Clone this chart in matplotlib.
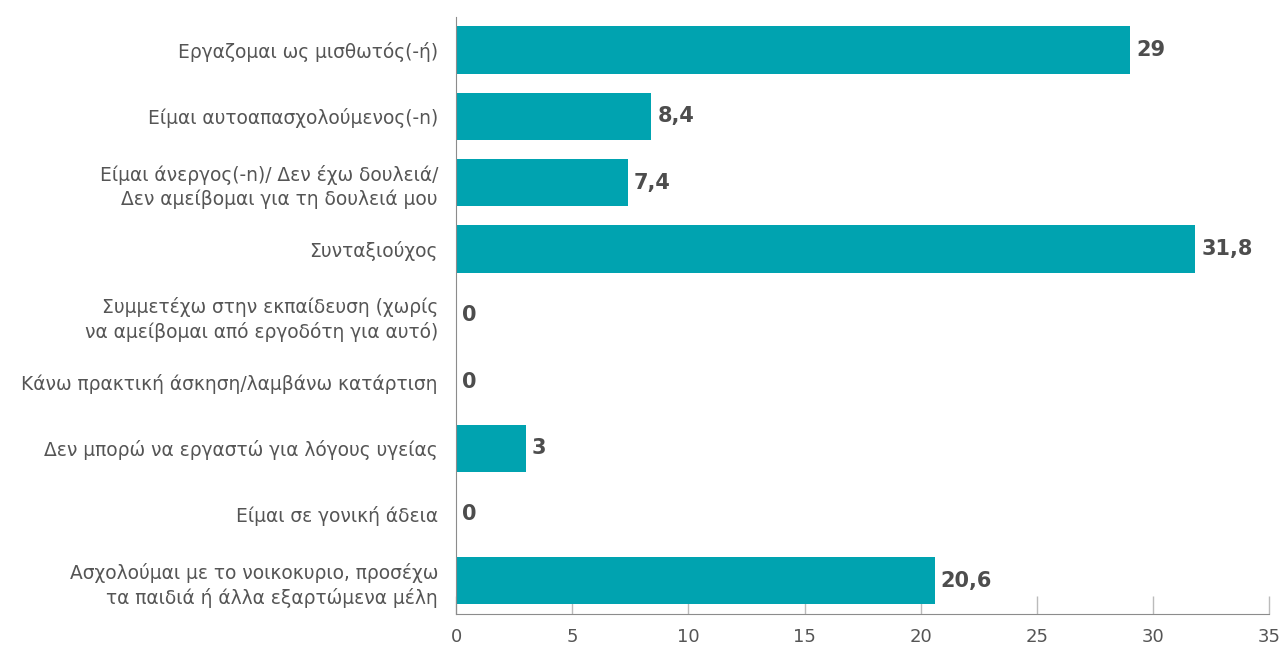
import matplotlib.pyplot as plt
from matplotlib.transforms import offset_copy

categories = [
    "Εργαζομαι ως μισθωτός(-ή)",
    "Είμαι αυτοαπασχολούμενος(-n)",
    "Είμαι άνεργος(-n)/ Δεν έχω δουλειά/\nΔεν αμείβομαι για τη δουλειά μου",
    "Συνταξιούχος",
    "Συμμετέχω στην εκπαίδευση (χωρίς\nνα αμείβομαι από εργοδότη για αυτό)",
    "Κάνω πρακτική άσκηση/λαμβάνω κατάρτιση",
    "Δεν μπορώ να εργαστώ για λόγους υγείας",
    "Είμαι σε γονική άδεια",
    "Ασχολούμαι με το νοικοκυριο, προσέχω\nτα παιδιά ή άλλα εξαρτώμενα μέλη",
]
values = [29, 8.4, 7.4, 31.8, 0, 0, 3, 0, 20.6]
value_labels = ["29", "8,4", "7,4", "31,8", "0", "0", "3", "0", "20,6"]
xticks = [0, 5, 10, 15, 20, 25, 30, 35]

BAR = "#00A3B0"
TEXT = "#555555"
VAL = "#4D4D4D"
AXIS = "#8C8C8C"

plt.rcParams["font.family"] = ["DejaVu Sans"]

fig = plt.figure(figsize=(12.81, 6.46), dpi=100)
ax = fig.add_axes([0.356, 0.0495, 0.635, 0.9245])

ypos = list(range(len(categories)))
ax.barh(ypos, values, height=0.71, color=BAR, zorder=2)
ax.set_ylim(len(categories) - 0.5, -0.5)
ax.set_xlim(0, 35)

ax.set_yticks(ypos)
ax.set_yticklabels(categories, fontsize=13.4, color=TEXT, ha="right",
                   linespacing=1.3)
ax.tick_params(axis="y", length=0, pad=13)

ax.set_xticks(xticks)
ax.set_xticklabels([str(t) for t in xticks], fontsize=13, color=TEXT)
ax.tick_params(axis="x", direction="in", length=13, width=1, color="#BBBBBB", pad=10)

for s in ["top", "right"]:
    ax.spines[s].set_visible(False)
ax.spines["left"].set_color(AXIS)
ax.spines["bottom"].set_color(AXIS)

trans = offset_copy(ax.transData, fig=fig, x=6, y=0, units="dots")
for y, v, lab in zip(ypos, values, value_labels):
    ax.text(v, y, lab, transform=trans, ha="left", va="center",
            fontsize=15, fontweight="bold", color=VAL)

fig.savefig("out.png", dpi=100, facecolor="white")
